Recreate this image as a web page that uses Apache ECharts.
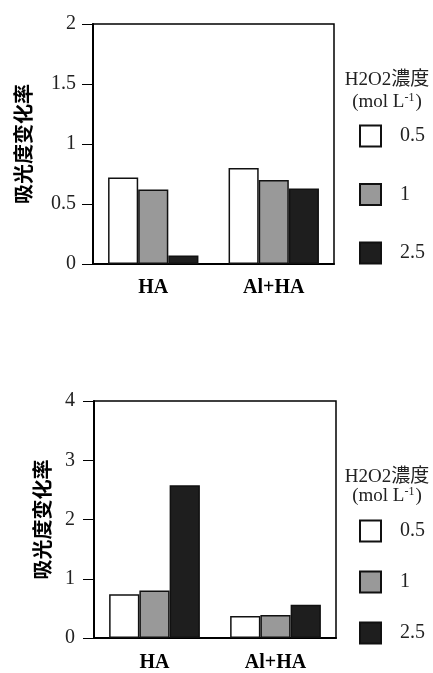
<!DOCTYPE html>
<html><head><meta charset="utf-8">
<script src="https://cdn.jsdelivr.net/npm/echarts@6/dist/echarts.min.js"></script>
<style>html,body{margin:0;padding:0;background:#fff}#c{width:433px;height:673px}</style>
</head><body><div id="c"></div>
<script>
const categories = ['HA', 'Al+HA'];
const seriesNames = ['0.5', '1', '2.5'];
const seriesColors = ['#ffffff', '#999999', '#1e1e1e'];
// top chart
const topConc05 = [0.72, 0.80];
const topConc1 = [0.62, 0.70];
const topConc25 = [0.07, 0.63];
// bottom chart
const botConc05 = [0.74, 0.37];
const botConc1 = [0.80, 0.39];
const botConc25 = [2.58, 0.56];
const topAxis = {min: 0, max: 2, interval: 0.5};
const botAxis = {min: 0, max: 4, interval: 1};
const yName = '吸光度变化率';
const legendTitle1 = 'H2O2濃度';
const legendTitle2 = '(mol L{s|-1})';

const serif = '"Liberation Serif", "Noto Sans CJK JP", serif';
const cjk = '"Noto Sans CJK SC", sans-serif';

function xAxis(idx) {
  return {
    type: 'category', gridIndex: idx, data: categories,
    axisLine: {lineStyle: {color: '#000', width: 2}},
    axisTick: {show: false},
    axisLabel: {fontFamily: serif, fontWeight: 'bold', fontSize: 20, color: '#000', margin: idx === 0 ? 14 : 15}
  };
}
function yAxis(idx, ax, gap, lm) {
  return {
    type: 'value', gridIndex: idx, min: ax.min, max: ax.max, interval: ax.interval,
    name: yName, nameLocation: 'middle', nameRotate: 90, nameGap: gap,
    nameTextStyle: {fontFamily: cjk, fontWeight: 'bold', fontSize: 20, color: '#000'},
    axisLine: {show: true, lineStyle: {color: '#000', width: 2}},
    axisTick: {show: true, inside: false, length: 11, lineStyle: {color: '#000', width: 1}},
    splitLine: {show: false},
    axisLabel: {fontFamily: serif, fontSize: 20, color: '#222', margin: lm}
  };
}
function bar(name, data, i, idx) {
  return {
    name: name, type: 'bar', xAxisIndex: idx, yAxisIndex: idx, data: data,
    barGap: '0%', barCategoryGap: '25%',
    itemStyle: {color: seriesColors[i], borderColor: '#111', borderWidth: 1.5},
    emphasis: {disabled: true}, animation: false
  };
}
function legend(top, gap) {
  return {
    orient: 'vertical', left: 359, top: top, padding: 0, itemWidth: 21, itemHeight: 21, itemGap: gap,
    icon: 'rect', data: seriesNames, selectedMode: false,
    textStyle: {fontFamily: serif, fontSize: 20, color: '#222', padding: [0, 0, 0, 14], lineHeight: 21}
  };
}
function titleText(x, y1, y2) {
  return [
    {type: 'text', x: x, y: y1, style: {text: legendTitle1, fontFamily: serif, fontSize: 19, fill: '#222', align: 'center', verticalAlign: 'middle'}},
    {type: 'text', x: x, y: y2, style: {text: legendTitle2, fontFamily: serif, fontSize: 19, fill: '#222', align: 'center', verticalAlign: 'middle', lineHeight: 20,
      rich: {s: {fontFamily: serif, fontSize: 12, fill: '#222', verticalAlign: 'top', lineHeight: 12, padding: [0, 1, 0, 0]}}}}
  ];
}

const chart = echarts.init(document.getElementById('c'), null, {renderer: 'canvas'});
chart.setOption({
  animation: false,
  backgroundColor: '#fff',
  grid: [
    {left: 93, top: 24, width: 241, height: 240, show: true, borderColor: '#000', borderWidth: 1.5, backgroundColor: 'transparent'},
    {left: 94, top: 401, width: 242, height: 242, show: true, borderColor: '#000', borderWidth: 1.5, backgroundColor: 'transparent'}
  ],
  xAxis: [xAxis(0), xAxis(1)],
  yAxis: [yAxis(0, topAxis, 60, 17), yAxis(1, botAxis, 42, 19)],
  legend: [legend(124.5, 35.5), legend(519.5, 28)],
  graphic: titleText(387, 80, 102).concat(titleText(387, 477, 496)),
  series: [
    bar(seriesNames[0], topConc05, 0, 0),
    bar(seriesNames[1], topConc1, 1, 0),
    bar(seriesNames[2], topConc25, 2, 0),
    bar(seriesNames[0], botConc05, 0, 1),
    bar(seriesNames[1], botConc1, 1, 1),
    bar(seriesNames[2], botConc25, 2, 1)
  ]
});
</script></body></html>
